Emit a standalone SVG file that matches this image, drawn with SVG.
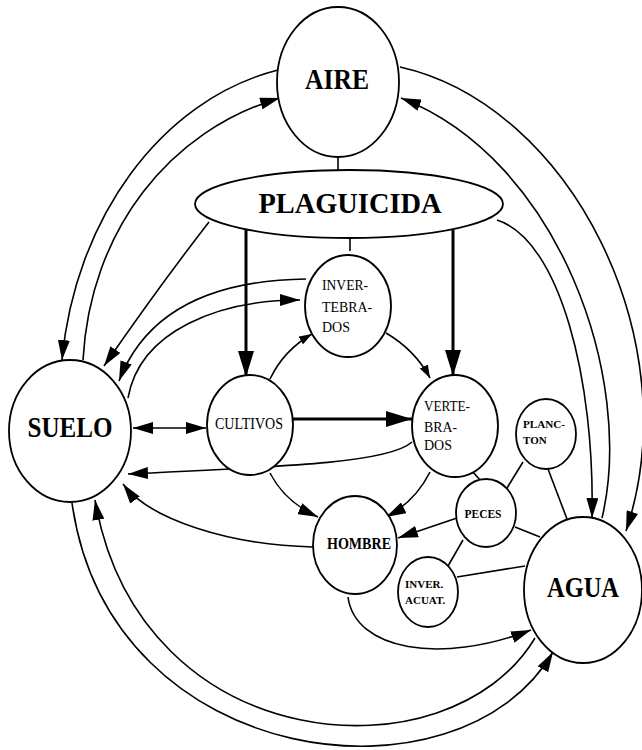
<svg xmlns="http://www.w3.org/2000/svg" width="642" height="750" viewBox="0 0 642 750">
  <style>
    .node { fill: #fff; stroke: #000; stroke-width: 1.8; }
    .link { fill: none; stroke: #000; stroke-width: 1.6; }
    .thick { fill: none; stroke: #000; stroke-width: 3; }
    .big { font-family: "Liberation Serif", "Times New Roman", serif; font-weight: bold; font-size: 30px; fill: #000; }
    .mid { font-family: "Liberation Serif", "Times New Roman", serif; font-size: 15px; fill: #000; }
    .sm { font-family: "Liberation Serif", "Times New Roman", serif; font-weight: bold; font-size: 11px; fill: #000; }
    .f13 { font-size: 13px; }
    .f16 { font-size: 16px; }
  </style>
  <defs>
    <marker id="arr" viewBox="0 0 20 12" refX="20" refY="6" markerWidth="20" markerHeight="12" markerUnits="userSpaceOnUse" orient="auto-start-reverse">
      <path d="M0,0 L20,6 L0,12 z" fill="#000"/>
    </marker>
    <marker id="arrBig" viewBox="0 0 26 16" refX="26" refY="8" markerWidth="26" markerHeight="16" markerUnits="userSpaceOnUse" orient="auto">
      <path d="M0,0 L26,8 L0,16 z" fill="#000"/>
    </marker>
    <marker id="arrSm" viewBox="0 0 13 9" refX="13" refY="4.5" markerWidth="13" markerHeight="9" markerUnits="userSpaceOnUse" orient="auto">
      <path d="M0,0 L13,4.5 L0,9 z" fill="#000"/>
    </marker>
  </defs>

  <!-- connectors -->
  <g id="connectors">
    <!-- AIRE / SUELO arcs -->
    <path class="link" d="M278,70 C160,100 75,220 62,360" marker-end="url(#arr)"/>
    <path class="link" d="M83,360 C90,230 170,130 280,98" marker-end="url(#arr)"/>
    <!-- AIRE / AGUA arcs -->
    <path class="link" d="M400,67 C570,105 690,340 626,531" marker-end="url(#arr)"/>
    <path class="link" d="M602,518 C635,380 560,160 401,98" marker-end="url(#arr)"/>
    <!-- SUELO / AGUA arcs -->
    <path class="link" d="M72,503 C110,772 460,812 553,652" marker-end="url(#arr)"/>
    <path class="link" d="M535,638 C450,780 140,760 95,500" marker-end="url(#arr)"/>
    <!-- ticks -->
    <path class="link" d="M338,157 L338,170"/>
    <path class="link" d="M350,238 L350,251"/>
    <!-- PLAGUICIDA outputs -->
    <path class="thick" d="M246,230 L246,377" marker-end="url(#arrBig)"/>
    <path class="thick" d="M453,230 L453,376" marker-end="url(#arrBig)"/>
    <path class="link" d="M209,222 Q160,285 104,366" marker-end="url(#arr)"/>
    <path class="link" d="M497,220 C560,240 595,380 592,518" marker-end="url(#arr)"/>
    <!-- INVERTEBRADOS / SUELO -->
    <path class="link" d="M306,279 C230,280 150,300 119,381" marker-end="url(#arr)"/>
    <path class="link" d="M128,398 C140,330 220,300 300,300" marker-end="url(#arr)"/>
    <!-- CULTIVOS links -->
    <path class="link" d="M133,428 L206,428" marker-start="url(#arr)" marker-end="url(#arr)"/>
    <path class="thick" d="M293,419 L412,419" marker-end="url(#arrBig)"/>
    <path class="link" d="M270,379 Q284,350 312,334" marker-end="url(#arrSm)"/>
    <path class="link" d="M386,333 Q415,350 430,378" marker-end="url(#arrSm)"/>
    <path class="link" d="M270,473 Q285,502 318,517" marker-end="url(#arr)"/>
    <path class="link" d="M430,472 Q415,502 386,517" marker-end="url(#arr)"/>
    <!-- back to SUELO -->
    <path class="link" d="M412,442 C390,462 300,466 128,474" marker-end="url(#arr)"/>
    <path class="link" d="M313,547 C230,545 150,520 123,484" marker-end="url(#arr)"/>
    <!-- HOMBRE links -->
    <path class="link" d="M457,518 L398,538" marker-end="url(#arr)"/>
    <path class="link" d="M348,597 C355,650 440,665 531,630" marker-end="url(#arr)"/>
    <!-- aquatic links -->
    <path class="link" d="M523,462 L507,488"/>
    <path class="link" d="M548,469 L567,519"/>
    <path class="link" d="M515,527 L540,537"/>
    <path class="link" d="M463,540 L448,566"/>
    <path class="link" d="M457,577 L525,566"/>
    <path class="link" d="M472,471 L481,481"/>
  </g>

  <g id="aire">
    <ellipse class="node" cx="338" cy="82" rx="61" ry="75"/>
    <text class="big" x="337" y="89" text-anchor="middle" textLength="64" lengthAdjust="spacingAndGlyphs">AIRE</text>
  </g>
  <g id="plaguicida">
    <ellipse class="node" cx="349" cy="204" rx="154" ry="34"/>
    <text class="big" x="350" y="213" text-anchor="middle" textLength="183" lengthAdjust="spacingAndGlyphs">PLAGUICIDA</text>
  </g>
  <g id="suelo">
    <ellipse class="node" cx="70" cy="431" rx="61" ry="71"/>
    <text class="big" x="70" y="437" text-anchor="middle" textLength="85" lengthAdjust="spacingAndGlyphs">SUELO</text>
  </g>
  <g id="cultivos">
    <ellipse class="node" cx="250" cy="425" rx="43" ry="50"/>
    <text class="mid f16" x="249" y="429" text-anchor="middle" textLength="68" lengthAdjust="spacingAndGlyphs">CULTIVOS</text>
  </g>
  <g id="invertebrados">
    <ellipse class="node" cx="348" cy="306" rx="43" ry="51"/>
    <text class="mid" x="322" y="290" textLength="46" lengthAdjust="spacingAndGlyphs">INVER-</text>
    <text class="mid" x="322" y="312" textLength="50" lengthAdjust="spacingAndGlyphs">TEBRA-</text>
    <text class="mid" x="322" y="332" textLength="28" lengthAdjust="spacingAndGlyphs">DOS</text>
  </g>
  <g id="vertebrados">
    <ellipse class="node" cx="455" cy="426" rx="43" ry="51"/>
    <text class="mid" x="424" y="411" textLength="46" lengthAdjust="spacingAndGlyphs">VERTE-</text>
    <text class="mid" x="424" y="432" textLength="33" lengthAdjust="spacingAndGlyphs">BRA-</text>
    <text class="mid" x="424" y="450" textLength="28" lengthAdjust="spacingAndGlyphs">DOS</text>
  </g>
  <g id="plancton">
    <ellipse class="node" cx="546" cy="434" rx="30" ry="35"/>
    <text class="sm" x="523" y="428" textLength="42" lengthAdjust="spacingAndGlyphs">PLANC-</text>
    <text class="sm" x="523" y="444">TON</text>
  </g>
  <g id="peces">
    <ellipse class="node" cx="486" cy="513" rx="30" ry="34"/>
    <text class="sm f13" x="483" y="518" text-anchor="middle" textLength="37" lengthAdjust="spacingAndGlyphs">PECES</text>
  </g>
  <g id="hombre">
    <ellipse class="node" cx="355" cy="545" rx="42" ry="49"/>
    <text class="sm f16" x="359" y="549" text-anchor="middle" textLength="64" lengthAdjust="spacingAndGlyphs">HOMBRE</text>
  </g>
  <g id="inver-acuat">
    <ellipse class="node" cx="428" cy="592" rx="30" ry="35"/>
    <text class="sm" x="405" y="588">INVER.</text>
    <text class="sm" x="405" y="604">ACUAT.</text>
  </g>
  <g id="agua">
    <ellipse class="node" cx="583" cy="590" rx="59" ry="73"/>
    <text class="big" x="583" y="597" text-anchor="middle" textLength="72" lengthAdjust="spacingAndGlyphs">AGUA</text>
  </g>
</svg>
